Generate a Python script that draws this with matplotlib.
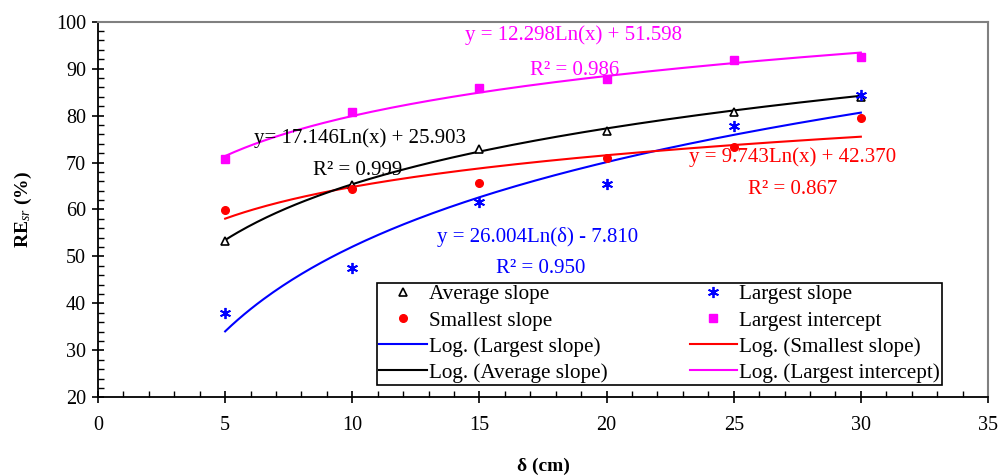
import numpy as np
import matplotlib
matplotlib.use("Agg")
import matplotlib.pyplot as plt
from matplotlib.ticker import MultipleLocator

plt.rcParams['font.family'] = ['Liberation Serif', 'DejaVu Serif']
plt.rcParams['mathtext.fontset'] = 'custom'
plt.rcParams['mathtext.rm'] = 'Liberation Serif'
plt.rcParams['mathtext.it'] = 'Liberation Serif:italic'
plt.rcParams['mathtext.bf'] = 'Liberation Serif:bold'

# ---- data ----
delta = [5, 10, 15, 20, 25, 30]
average_slope = [53.3, 65.2, 72.8, 76.7, 80.8, 84.0]
largest_slope = [37.9, 47.5, 61.7, 65.4, 77.8, 84.4]
smallest_slope = [59.9, 64.3, 65.6, 71.0, 73.4, 79.4]
largest_intercept = [70.8, 80.8, 85.9, 87.7, 91.8, 92.4]

# logarithmic trendline coefficients (a*ln(x)+b) as annotated on the chart
fit_average = (17.146, 25.903)
fit_largest = (26.004, -7.810)
fit_smallest = (9.743, 42.370)
fit_intercept = (12.298, 51.598)

eq_average = ["y= 17.146Ln(x) + 25.903", "R\u00b2 = 0.999"]
eq_largest = ["y = 26.004Ln(\u03b4) - 7.810", "R\u00b2 = 0.950"]
eq_smallest = ["y = 9.743Ln(x) + 42.370", "R\u00b2 = 0.867"]
eq_intercept = ["y = 12.298Ln(x) + 51.598", "R\u00b2 = 0.986"]

x_ticks = [0, 5, 10, 15, 20, 25, 30, 35]
y_ticks = [20, 30, 40, 50, 60, 70, 80, 90, 100]

fig = plt.figure(figsize=(10, 4.75), dpi=100)
ax = fig.add_axes([0.098, 0.1636, 0.89, 0.7907])

xf = np.linspace(min(delta), max(delta), 200)
def trend(c):
    return c[0] * np.log(xf) + c[1]

h_avg, = ax.plot(delta, average_slope, linestyle='none', marker='^', markersize=6,
                 markerfacecolor='white', markeredgecolor='black', markeredgewidth=1.2,
                 label='Average slope', zorder=5)
h_small, = ax.plot(delta, smallest_slope, linestyle='none', marker='o', markersize=5.5,
                   color='#ff0000', label='Smallest slope', zorder=5)
h_large, = ax.plot(delta, largest_slope, linestyle='none', marker=(6, 2, 0), markersize=8,
                   markeredgewidth=1.3, color='#0000ff', label='Largest slope', zorder=5)
h_int, = ax.plot(delta, largest_intercept, linestyle='none', marker='s', markersize=6,
                 color='#ff00ff', label='Largest intercept', zorder=5)

l_large, = ax.plot(xf, trend(fit_largest), color='#0000ff', lw=1.5, label='Log. (Largest slope)')
l_small, = ax.plot(xf, trend(fit_smallest), color='#ff0000', lw=1.5, label='Log. (Smallest slope)')
l_avg, = ax.plot(xf, trend(fit_average), color='black', lw=1.5, label='Log. (Average slope)')
l_int, = ax.plot(xf, trend(fit_intercept), color='#ff00ff', lw=1.5, label='Log. (Largest intercept)')

fs = 15
ax.text(18.7, 97.2, eq_intercept[0], color='#ff00ff', fontsize=fs, ha='center', va='center')
ax.text(18.75, 89.7, eq_intercept[1], color='#ff00ff', fontsize=fs, ha='center', va='center')
ax.text(10.3, 75.2, eq_average[0], color='black', fontsize=fs, ha='center', va='center')
ax.text(10.2, 68.4, eq_average[1], color='black', fontsize=fs, ha='center', va='center')
ax.text(27.3, 71.2, eq_smallest[0], color='#ff0000', fontsize=fs, ha='center', va='center')
ax.text(27.3, 64.2, eq_smallest[1], color='#ff0000', fontsize=fs, ha='center', va='center')
ax.text(17.3, 54.1, eq_largest[0], color='#0000ff', fontsize=fs, ha='center', va='center')
ax.text(17.4, 47.5, eq_largest[1], color='#0000ff', fontsize=fs, ha='center', va='center')

handles = [h_avg, h_small, l_large, l_avg, h_large, h_int, l_small, l_int]
leg = ax.legend(handles=handles, ncol=2, loc='lower left',
                bbox_to_anchor=(0.3135, 0.033),
                fontsize=15.2, frameon=True, fancybox=False, edgecolor='black',
                framealpha=1, handlelength=2.25, handletextpad=0.1, columnspacing=3.9,
                labelspacing=0.3, borderpad=0.1, borderaxespad=0)
leg.get_frame().set_linewidth(1.2)

ax.set_xlim(0, 35)
ax.set_ylim(20, 100)
ax.set_xticks(x_ticks)
ax.set_yticks(y_ticks)
ax.xaxis.set_minor_locator(MultipleLocator(1))
ax.yaxis.set_minor_locator(MultipleLocator(2))
ax.tick_params(which='major', direction='inout', length=9, width=1.2, labelsize=14.5)
ax.tick_params(axis='x', which='major', pad=9)
ax.tick_params(axis='y', which='major', pad=4)
ax.tick_params(which='minor', direction='in', length=4, width=1)
ax.spines['left'].set_linewidth(1.3)
ax.spines['bottom'].set_linewidth(1.3)
ax.spines['top'].set_color('#808080')
ax.spines['right'].set_color('#808080')
ax.spines['top'].set_linewidth(1.5)
ax.spines['right'].set_linewidth(1.5)

ax.set_xlabel('\u03b4 (cm)', fontsize=14, fontweight='bold', labelpad=16)
ax.set_ylabel(r'RE$_{sr}$ (%)', fontsize=14, fontweight='bold', labelpad=16)

fig.savefig('out.png', dpi=100)
